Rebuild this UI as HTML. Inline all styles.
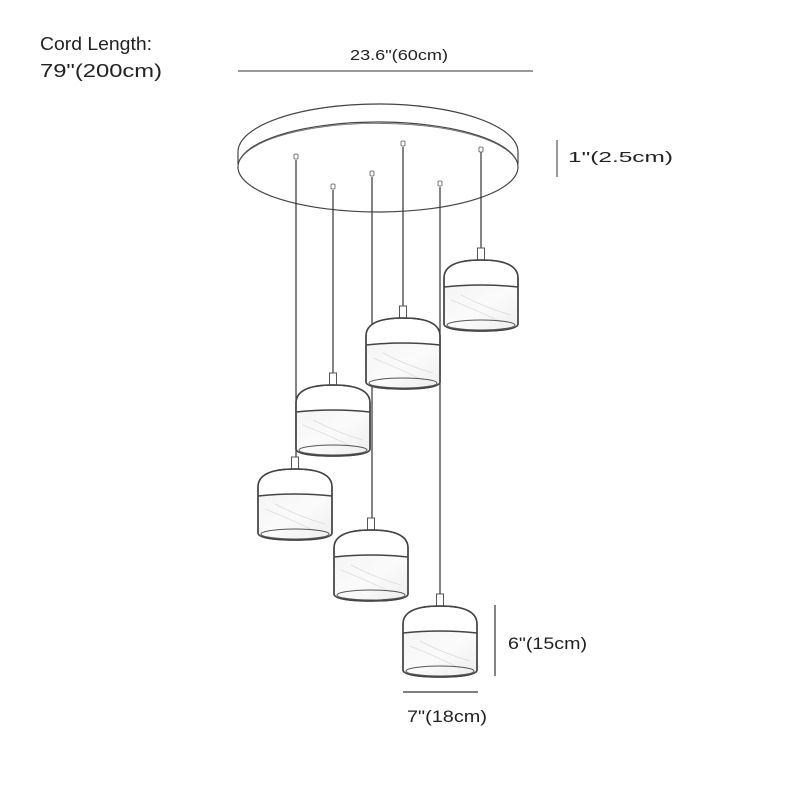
<!DOCTYPE html>
<html><head><meta charset="utf-8"><style>
html,body{margin:0;padding:0;background:#fff;}
svg{display:block;}
text{font-family:"Liberation Sans",sans-serif;fill:#222;}
</style></head><body>
<svg width="800" height="800" viewBox="0 0 800 800" xmlns="http://www.w3.org/2000/svg">
<defs>
<linearGradient id="g" x1="0" y1="0" x2="1" y2="1">
<stop offset="0" stop-color="#f4f4f4"/><stop offset="0.5" stop-color="#fbfbfb"/><stop offset="1" stop-color="#eeeeee"/>
</linearGradient>
<g id="lamp">
<rect x="-3.5" y="-12" width="7" height="12" fill="#fff" stroke="#555" stroke-width="1"/>
<path d="M-37,18 C-37,4 -20,0 0,0 C20,0 37,4 37,18 L37,64 C37,68 25,71 0,71 C-25,71 -37,68 -37,64 Z" fill="#fff" stroke="#444" stroke-width="1.5"/>
<path d="M-36,27 Q0,23 36,27 L36,64 C36,68 25,70 0,70 C-25,70 -36,68 -36,64 Z" fill="url(#g)"/>
<path d="M-37,27 Q0,23 37,27" fill="none" stroke="#444" stroke-width="1.5"/>
<path d="M-30,40 Q-5,50 20,62 M-20,35 Q5,48 30,55" fill="none" stroke="#ddd" stroke-width="0.8"/>
<ellipse cx="0" cy="65" rx="34" ry="5" fill="none" stroke="#555" stroke-width="1"/>
<path d="M-37,18 C-37,4 -20,0 0,0 C20,0 37,4 37,18 L37,64 C37,68 25,71 0,71 C-25,71 -37,68 -37,64 Z" fill="none" stroke="#444" stroke-width="1.5"/>
</g>
</defs>

<text x="40" y="50" font-size="18" textLength="112" lengthAdjust="spacingAndGlyphs">Cord Length:</text>
<text x="40" y="77" font-size="18" textLength="122" lengthAdjust="spacingAndGlyphs">79"(200cm)</text>

<text x="350" y="60" font-size="15" textLength="98" lengthAdjust="spacingAndGlyphs">23.6"(60cm)</text>
<line x1="238" y1="71" x2="533" y2="71" stroke="#333" stroke-width="1"/>

<!-- canopy -->
<path d="M238,152 A140,48 0 0 1 518,152" fill="none" stroke="#444" stroke-width="1.2"/>
<line x1="238" y1="152" x2="238" y2="164" stroke="#444" stroke-width="1.2"/>
<line x1="518" y1="152" x2="518" y2="164" stroke="#444" stroke-width="1.2"/>
<ellipse cx="378" cy="167" rx="140" ry="45" fill="none" stroke="#444" stroke-width="1.2"/>
<path d="M240,160 A140,44 0 0 1 516,160" fill="none" stroke="#666" stroke-width="0.8"/>

<text x="568" y="162" font-size="15" textLength="105" lengthAdjust="spacingAndGlyphs">1"(2.5cm)</text>
<line x1="557" y1="140" x2="557" y2="177" stroke="#333" stroke-width="1"/>

<!-- cords -->
<g stroke="#333" stroke-width="1.2">
<line x1="296" y1="160" x2="296" y2="457"/>
<line x1="333" y1="190" x2="333" y2="373"/>
<line x1="372" y1="177" x2="372" y2="518"/>
<line x1="403" y1="147" x2="403" y2="306"/>
<line x1="440" y1="187" x2="440" y2="594"/>
<line x1="481" y1="152" x2="481" y2="248"/>
</g>
<g fill="#fff" stroke="#555" stroke-width="0.8">
<rect x="294" y="154" width="4" height="5" rx="1"/>
<rect x="331" y="184" width="4" height="5" rx="1"/>
<rect x="370" y="171" width="4" height="5" rx="1"/>
<rect x="401" y="141" width="4" height="5" rx="1"/>
<rect x="438" y="181" width="4" height="5" rx="1"/>
<rect x="479" y="147" width="4" height="5" rx="1"/>
</g>

<use href="#lamp" transform="translate(481,260)"/>
<use href="#lamp" transform="translate(403,318)"/>
<use href="#lamp" transform="translate(333,385)"/>
<use href="#lamp" transform="translate(295,469)"/>
<use href="#lamp" transform="translate(371,530)"/>
<use href="#lamp" transform="translate(440,606)"/>

<line x1="495" y1="605" x2="495" y2="676" stroke="#333" stroke-width="1.2"/>
<text x="508" y="649" font-size="17" textLength="79" lengthAdjust="spacingAndGlyphs">6"(15cm)</text>
<line x1="403" y1="692" x2="478" y2="692" stroke="#333" stroke-width="1.2"/>
<text x="407" y="722" font-size="17" textLength="80" lengthAdjust="spacingAndGlyphs">7"(18cm)</text>
</svg>
</body></html>
